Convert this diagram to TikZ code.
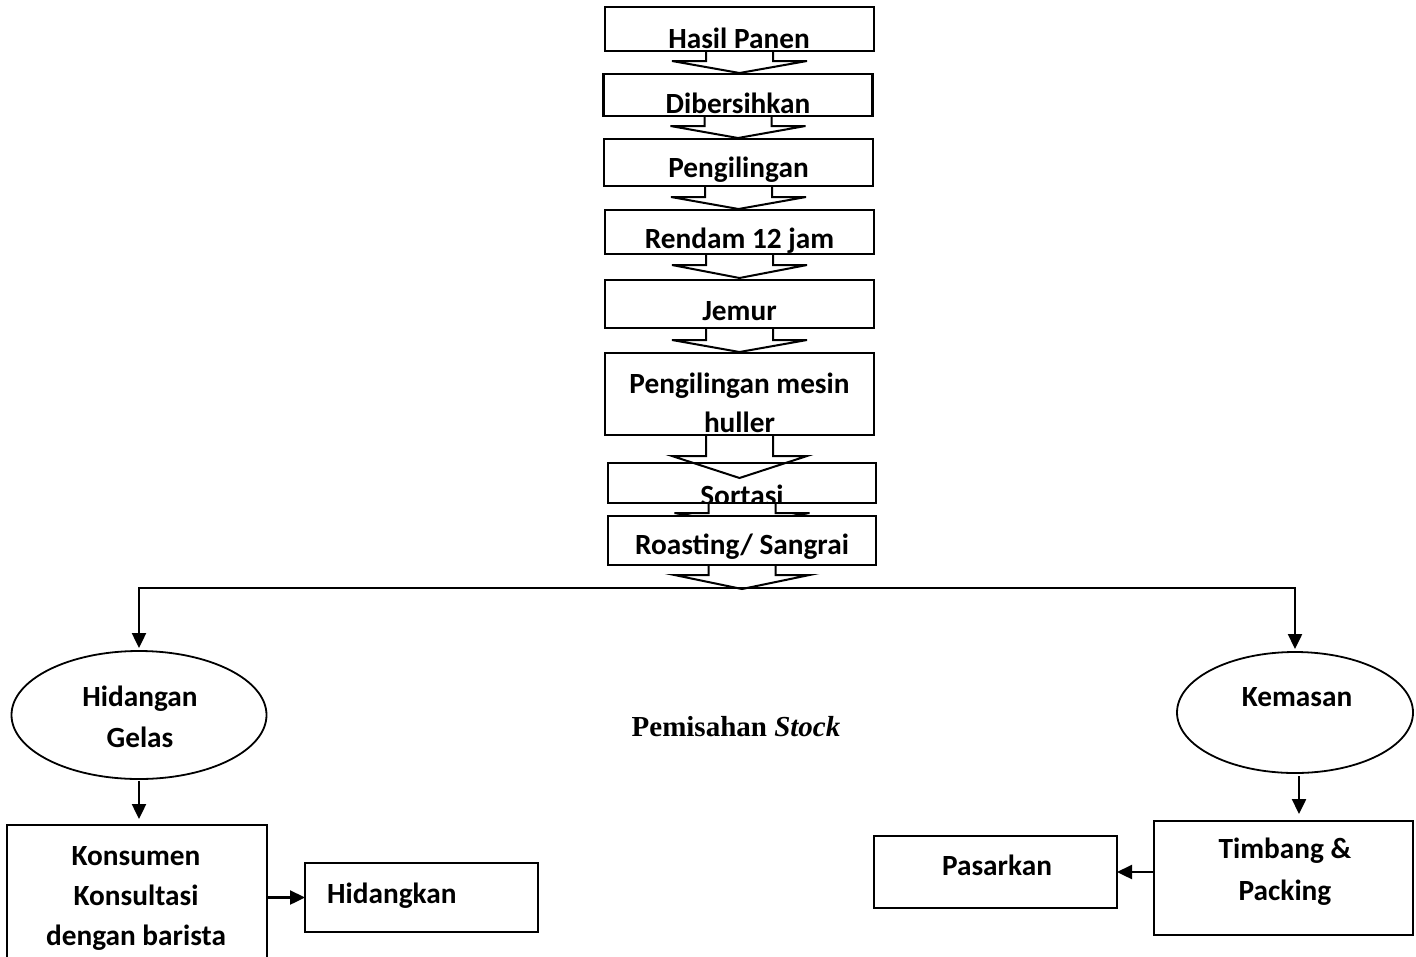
\documentclass[tikz,border=0pt]{standalone}
\usepackage{fontspec}
\setmainfont{Carlito}
\newfontfamily\stockfont{Liberation Serif}
\usetikzlibrary{shapes.geometric,arrows.meta,calc}

\tikzset{
  stepbox/.style={draw, line width=2.4pt, inner sep=0pt, outer sep=0pt,
    minimum width=269pt, minimum height=#1},
  stepbox/.default=44pt,
  roundbox/.style={ellipse, draw, line width=1.8pt, inner sep=0pt, outer sep=0pt},
  steptext/.style={anchor=base, inner sep=0pt, align=center,
    font=\fontsize{29.3}{40}\selectfont\bfseries},
  blockarrow/.style={line width=2pt, line join=miter},
  flow/.style={line width=2.4pt, -{Triangle[length=15pt,width=14pt]}},
}

% panah blok ke bawah: node atas, panjang batang, panjang kepala
\newcommand{\blockdown}[3]{%
  \draw[blockarrow] ($(#1.south)+(-33.5,0)$) -- ++(0,#2) -- ++(-34,0)
    -- ++(67.5,#3) -- ++(67.5,-#3) -- ++(-34,0) -- ++(0,-#2);}

\begin{document}
\begin{tikzpicture}[x=1pt,y=-1pt]
\useasboundingbox (0,0) rectangle (1416,956);

% alur pengolahan
\node[stepbox=44pt] (panen)  at (739.5,29)    {};
\node[stepbox=42pt] (bersih) at (738,95)      {};
\node[stepbox=47pt] (giling) at (738.5,162.5) {};
\node[stepbox=44pt] (rendam) at (739.5,232)   {};
\node[stepbox=48pt] (jemur)  at (739.5,304)   {};
\node[stepbox=82pt] (huller) at (739.5,394)   {};
\node[stepbox=40pt, minimum width=268pt] (sortasi) at (742,483) {};

\node[steptext] (panen-t)  at (739,48)    {Hasil Panen};
\node[steptext] (bersih-t) at (738,113)   {Dibersihkan};
\node[steptext] (giling-t) at (738.5,177) {Pengilingan};
\node[steptext] (rendam-t) at (739.5,248) {Rendam 12 jam};
\node[steptext] (jemur-t)  at (739.5,320) {Jemur};
\node[steptext, font=\fontsize{29.3}{39}\selectfont\bfseries] (huller-t) at (739.5,432)
  {Pengilingan mesin\\huller};
\begin{scope}
  \clip (sortasi.north west) rectangle (sortasi.south east);
  \node[steptext] (sortasi-t) at (742,505) {Sortasi};
\end{scope}

\blockdown{panen}{10}{12}
\blockdown{bersih}{10}{12}
\blockdown{giling}{11}{12}
\blockdown{rendam}{11}{13}
\blockdown{jemur}{12}{12}
\blockdown{huller}{21}{22}
\blockdown{sortasi}{10}{12}

\node[stepbox=49pt, minimum width=268pt, fill=white] (roasting) at (742,540.5) {};
\node[steptext] (roasting-t) at (742,554) {Roasting/ Sangrai};
\blockdown{roasting}{10}{14}

% pemisahan stock
\coordinate (fork) at (741.5,588);
\node[roundbox, minimum width=255pt, minimum height=128pt] (gelas) at (139,715) {};
\node[roundbox, minimum width=236pt, minimum height=121pt] (kemasan) at (1295,712.5) {};
\draw[flow, shorten >=3pt] (fork) -| (gelas);
\draw[flow, shorten >=3pt] (fork) -| (kemasan);

\node[steptext, font=\fontsize{29.3}{41}\selectfont\bfseries] (gelas-t) at (140,747)
  {Hidangan\\Gelas};
\node[steptext] (kemasan-t) at (1297,706) {Kemasan};
\node[steptext, font=\fontsize{29}{40}\stockfont\bfseries] (stock) at (736,736)
  {Pemisahan \textit{Stock}};

% hilir
\node[stepbox=137pt, minimum width=260pt] (konsumen)  at (137,893.5)  {};
\node[stepbox=69pt,  minimum width=233pt] (hidangkan) at (421.5,897.5) {};
\node[stepbox=114pt, minimum width=259pt] (timbang)   at (1283.5,878) {};
\node[stepbox=72pt,  minimum width=243pt] (pasarkan)  at (995.5,872)  {};

\node[steptext] (konsumen-t) at (136,945) {Konsumen\\Konsultasi\\dengan barista};
\node[steptext, anchor=base west] (hidangkan-t) at (327,903) {Hidangkan};
\node[steptext, font=\fontsize{29.3}{42}\selectfont\bfseries] (timbang-t) at (1285,900)
  {Timbang \&\\Packing};
\node[steptext] (pasarkan-t) at (997,875)  {Pasarkan};

\coordinate (kemasan-out) at ([xshift=4pt]kemasan.south);
\draw[flow, shorten <=2pt, shorten >=6pt] (gelas.south) -- (gelas.south |- konsumen.north);
\draw[flow, shorten <=3pt, shorten >=7pt] (kemasan-out) -- (kemasan-out |- timbang.north);
\draw[flow] (konsumen.east |- hidangkan.west) -- (hidangkan.west);
\draw[flow] (timbang.west |- pasarkan.east) -- (pasarkan.east);
\end{tikzpicture}
\end{document}
